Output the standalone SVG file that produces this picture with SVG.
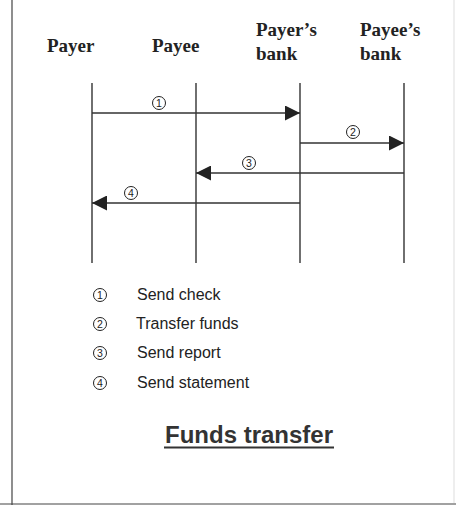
<svg xmlns="http://www.w3.org/2000/svg" width="456" height="515" viewBox="0 0 456 515">
<style>
.hdr{font-family:"Liberation Serif","Times New Roman",serif;font-weight:bold;font-size:19px;fill:#222}
.life{stroke:#222;stroke-width:1.3;fill:none}
.msg{stroke:#333;stroke-width:1.3;fill:none}
.circ{stroke:#222;stroke-width:1;fill:none}
.num{font-family:"Liberation Sans",Arial,sans-serif;font-size:10.5px;fill:#222;text-anchor:middle}
.leg{font-family:"Liberation Sans",Arial,sans-serif;font-size:16px;fill:#222}
.title{font-family:"Liberation Sans",Arial,sans-serif;font-size:24px;font-weight:bold;fill:#333;text-anchor:middle}
.frame{stroke:#444;stroke-width:1.2;fill:none}
</style>
<defs>
<marker id="ah" viewBox="0 0 15 15" refX="15" refY="7.5" markerWidth="15" markerHeight="15" markerUnits="userSpaceOnUse" orient="auto">
<path d="M0,0 L15,7.5 L0,15 Z" fill="#222"/>
</marker>
</defs>
<rect width="456" height="515" fill="#fff"/>
<g id="frame">
<line class="frame" x1="12" y1="0" x2="12" y2="505"/>
<line class="frame" x1="0" y1="504" x2="456" y2="504"/>
<line x1="454" y1="0" x2="454" y2="503" stroke="#ddd" stroke-width="1"/>
</g>
<g id="payer">
<text class="hdr" x="47" y="52">Payer</text>
<line class="life" x1="92" y1="83" x2="92" y2="263"/>
</g>
<g id="payee">
<text class="hdr" x="152" y="52">Payee</text>
<line class="life" x1="196" y1="83" x2="196" y2="263"/>
</g>
<g id="payers-bank">
<text class="hdr" x="256" y="36">Payer’s</text>
<text class="hdr" x="256" y="60">bank</text>
<line class="life" x1="300" y1="83" x2="300" y2="263"/>
</g>
<g id="payees-bank">
<text class="hdr" x="360" y="36">Payee’s</text>
<text class="hdr" x="360" y="60">bank</text>
<line class="life" x1="404" y1="83" x2="404" y2="263"/>
</g>
<g id="connectors">
<line class="msg" x1="92" y1="113" x2="300" y2="113" marker-end="url(#ah)"/>
<circle class="circ" cx="159" cy="103" r="6.5"/><text class="num" x="159" y="106.8">1</text>
<line class="msg" x1="300" y1="143" x2="404" y2="143" marker-end="url(#ah)"/>
<circle class="circ" cx="353" cy="132" r="6.5"/><text class="num" x="353" y="135.8">2</text>
<line class="msg" x1="404" y1="173" x2="196" y2="173" marker-end="url(#ah)"/>
<circle class="circ" cx="249" cy="163" r="6.5"/><text class="num" x="249" y="166.8">3</text>
<line class="msg" x1="300" y1="203" x2="92" y2="203" marker-end="url(#ah)"/>
<circle class="circ" cx="131" cy="193" r="6.5"/><text class="num" x="131" y="196.8">4</text>
</g>
<g id="legend">
<circle class="circ" cx="100" cy="295" r="6.5"/><text class="num" x="100" y="298.8">1</text>
<text class="leg" x="137" y="300">Send check</text>
<circle class="circ" cx="100" cy="324" r="6.5"/><text class="num" x="100" y="327.8">2</text>
<text class="leg" x="136" y="329">Transfer funds</text>
<circle class="circ" cx="100" cy="353" r="6.5"/><text class="num" x="100" y="356.8">3</text>
<text class="leg" x="137" y="358">Send report</text>
<circle class="circ" cx="100" cy="383" r="6.5"/><text class="num" x="100" y="386.8">4</text>
<text class="leg" x="137" y="388">Send statement</text>
</g>
<g id="title">
<text class="title" x="249" y="443">Funds transfer</text>
<line x1="164" y1="447.5" x2="334" y2="447.5" stroke="#333" stroke-width="1.8"/>
</g>
</svg>
